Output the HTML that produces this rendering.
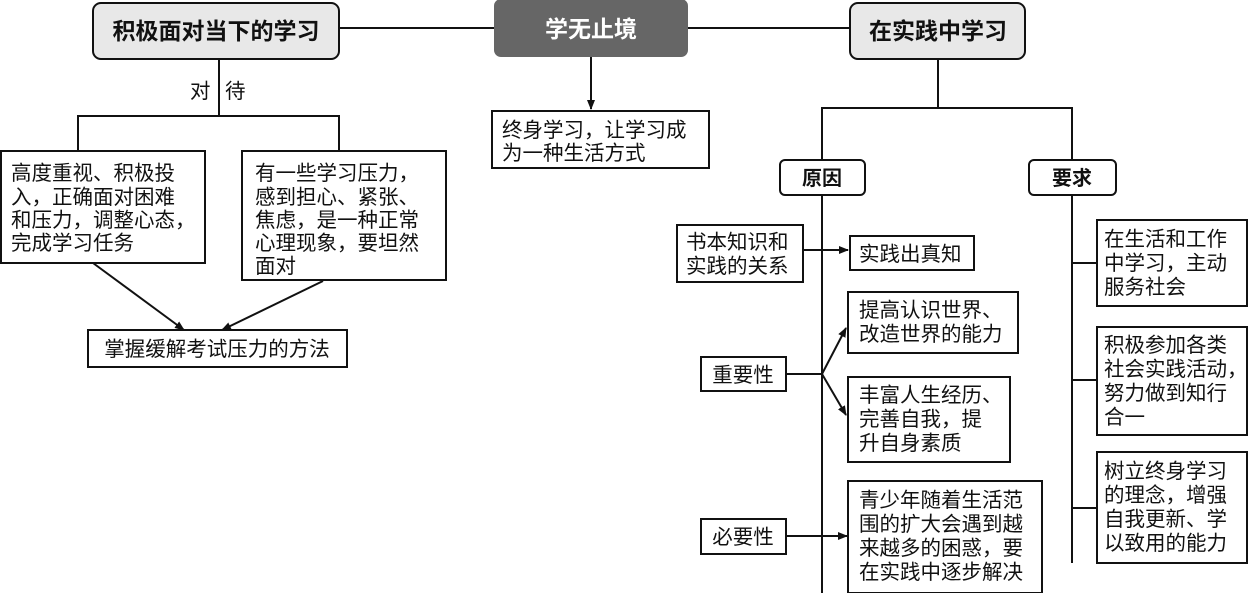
<!DOCTYPE html>
<html><head><meta charset="utf-8"><style>
html,body{margin:0;padding:0;background:#fff;}
svg{display:block;}
text{font-family:"Liberation Sans","Noto Sans CJK SC",sans-serif;font-size:20.5px;fill:#111;}
.b{font-weight:bold;font-size:23px;}
</style></head><body>
<svg width="1248" height="593" viewBox="0 0 1248 593" xmlns="http://www.w3.org/2000/svg">
<defs><marker id="a" markerWidth="10" markerHeight="10" refX="9" refY="5" orient="auto" markerUnits="userSpaceOnUse"><path d="M0,1 L10,5 L0,9 z" fill="#111"/></marker></defs>
<g stroke="#111" stroke-width="2" fill="none">
<line x1="339" y1="28" x2="495" y2="28"/>
<line x1="687" y1="28" x2="850" y2="28"/>
<line x1="591" y1="56" x2="591" y2="109" marker-end="url(#a)"/>
<line x1="219" y1="59" x2="219" y2="116"/>
<polyline points="78,151 78,116 339,116 339,151"/>
<line x1="93" y1="263" x2="184" y2="330" marker-end="url(#a)"/>
<line x1="323" y1="281" x2="222" y2="330" marker-end="url(#a)"/>
<line x1="938" y1="59" x2="938" y2="108"/>
<polyline points="822,160 822,108 1072,108 1072,160"/>
<line x1="822" y1="195" x2="822" y2="593"/>
<line x1="1072" y1="195" x2="1072" y2="563"/>
<line x1="803" y1="250" x2="848" y2="250" marker-end="url(#a)"/>
<line x1="786" y1="374" x2="822" y2="374"/>
<line x1="822" y1="374" x2="846" y2="328" marker-end="url(#a)"/>
<line x1="822" y1="374" x2="846" y2="415" marker-end="url(#a)"/>
<line x1="786" y1="536" x2="847" y2="536" marker-end="url(#a)"/>
<line x1="1072" y1="263" x2="1097" y2="263"/>
<line x1="1072" y1="380" x2="1097" y2="380"/>
<line x1="1072" y1="508" x2="1097" y2="508"/>
</g>
<g stroke="#111" stroke-width="2">
<rect x="93" y="3" width="246" height="56" rx="8" fill="#e8e8e8"/>
<rect x="850" y="3" width="175" height="56" rx="8" fill="#e8e8e8"/>
<rect x="495" y="0" width="192" height="56" rx="6" fill="#666" stroke="#666"/>
<rect x="780" y="160" width="85" height="35" rx="5" fill="#fff"/>
<rect x="1029" y="160" width="87" height="35" rx="5" fill="#fff"/>
</g>
<g stroke="#111" stroke-width="2" fill="#fff">
<rect x="492" y="111" width="217" height="57"/>
<rect x="1" y="151" width="204" height="112"/>
<rect x="242" y="151" width="204" height="129"/>
<rect x="88" y="330" width="259" height="37"/>
<rect x="677" y="225" width="126" height="57"/>
<rect x="850" y="236" width="124" height="34"/>
<rect x="848" y="292" width="170" height="61"/>
<rect x="848" y="377" width="162" height="85"/>
<rect x="701" y="357" width="85" height="34"/>
<rect x="701" y="519" width="85" height="35"/>
<rect x="848" y="481" width="194" height="112"/>
<rect x="1097" y="220" width="150" height="86"/>
<rect x="1097" y="327" width="150" height="108"/>
<rect x="1097" y="452" width="150" height="111"/>
</g>
<text class="b" x="216" y="39" text-anchor="middle">积极面对当下的学习</text>
<text class="b" x="591" y="37" text-anchor="middle" style="fill:#fff">学无止境</text>
<text class="b" x="938" y="39" text-anchor="middle">在实践中学习</text>
<text class="b" x="822" y="185" text-anchor="middle" style="font-size:20px">原因</text>
<text class="b" x="1072" y="185" text-anchor="middle" style="font-size:20px">要求</text>
<text x="190" y="98">对</text><text x="225" y="98">待</text>
<text x="502" y="137">终身学习，让学习成</text><text x="502" y="160">为一种生活方式</text>
<text x="11" y="180">高度重视、积极投</text><text x="11" y="204">入，正确面对困难</text><text x="11" y="227">和压力，调整心态，</text><text x="11" y="250">完成学习任务</text>
<text x="255" y="180">有一些学习压力，</text><text x="255" y="204">感到担心、紧张、</text><text x="255" y="227">焦虑，是一种正常</text><text x="255" y="250">心理现象，要坦然</text><text x="255" y="273">面对</text>
<text x="217" y="356" text-anchor="middle">掌握缓解考试压力的方法</text>
<text x="686" y="249">书本知识和</text><text x="686" y="273">实践的关系</text>
<text x="859" y="261">实践出真知</text>
<text x="859" y="317">提高认识世界、</text><text x="859" y="341">改造世界的能力</text>
<text x="859" y="402">丰富人生经历、</text><text x="859" y="426">完善自我，提</text><text x="859" y="450">升自身素质</text>
<text x="743" y="382" text-anchor="middle">重要性</text>
<text x="743" y="544" text-anchor="middle">必要性</text>
<text x="859" y="507">青少年随着生活范</text><text x="859" y="531">围的扩大会遇到越</text><text x="859" y="555">来越多的困惑，要</text><text x="859" y="579">在实践中逐步解决</text>
<text x="1104" y="246">在生活和工作</text><text x="1104" y="270">中学习，主动</text><text x="1104" y="294">服务社会</text>
<text x="1104" y="352">积极参加各类</text><text x="1104" y="376">社会实践活动，</text><text x="1104" y="400">努力做到知行</text><text x="1104" y="424">合一</text>
<text x="1104" y="478">树立终身学习</text><text x="1104" y="502">的理念，增强</text><text x="1104" y="526">自我更新、学</text><text x="1104" y="550">以致用的能力</text>
</svg>
</body></html>
